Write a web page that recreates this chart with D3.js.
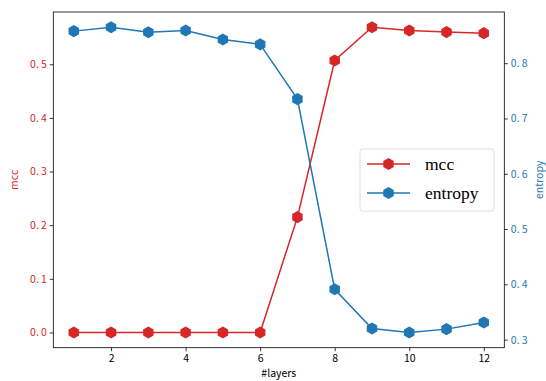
<!DOCTYPE html>
<html>
<head>
<meta charset="utf-8">
<script src="https://cdn.jsdelivr.net/npm/d3@7"></script>
<style>
  body { margin: 0; background: #fff; }
  svg text { font-family: "Noto Sans CJK SC", "DejaVu Sans", sans-serif; }
  svg text.serif { font-family: "Liberation Serif", "Times New Roman", serif; }
</style>
</head>
<body>
<div id="chart"></div>
<script>
const layers = [1, 2, 3, 4, 5, 6, 7, 8, 9, 10, 11, 12];
const mcc = [0, 0, 0, 0, 0, 0, 0.215, 0.507, 0.569, 0.563, 0.560, 0.558];
const entropy = [0.858, 0.865, 0.856, 0.859, 0.843, 0.834, 0.735, 0.391, 0.320, 0.313, 0.319, 0.331];
const xTicks = [2, 4, 6, 8, 10, 12];
const mccTicks = [0.0, 0.1, 0.2, 0.3, 0.4, 0.5];
const entropyTicks = [0.3, 0.4, 0.5, 0.6, 0.7, 0.8];

const width = 546;
const height = 381;
const red = '#d62728';
const blue = '#1f77b4';
const plot = { left: 53.3, right: 504.3, top: 12, bottom: 347.7 };

const svg = d3.select('#chart').append('svg')
  .attr('width', width)
  .attr('height', height);

// matplotlib-like 5% margins
function padded(vals) {
  const [lo, hi] = d3.extent(vals);
  const m = (hi - lo) * 0.05;
  return [lo - m, hi + m];
}

const x = d3.scaleLinear().domain(padded(layers)).range([plot.left, plot.right]);
const yL = d3.scaleLinear().domain(padded(mcc)).range([plot.bottom, plot.top]);
const yR = d3.scaleLinear().domain(padded(entropy)).range([plot.bottom, plot.top]);

const fmt = d => d3.format('.1f')(d).replace('.', '.\u2009');

function styleAxis(g, color) {
  g.select('.domain').remove();
  g.selectAll('.tick line').attr('stroke', '#000').attr('stroke-width', 0.8);
  g.selectAll('.tick text').attr('fill', color).attr('font-size', 10.5);
}

svg.append('g')
  .attr('transform', `translate(0,${plot.bottom})`)
  .call(d3.axisBottom(x).tickValues(xTicks).tickSize(3.5).tickPadding(3))
  .call(g => styleAxis(g, '#000'));

svg.append('g')
  .attr('transform', `translate(${plot.left},0)`)
  .call(d3.axisLeft(yL).tickValues(mccTicks).tickSize(3.5).tickPadding(3).tickFormat(fmt))
  .call(g => styleAxis(g, red));

svg.append('g')
  .attr('transform', `translate(${plot.right},0)`)
  .call(d3.axisRight(yR).tickValues(entropyTicks).tickSize(3.5).tickPadding(3).tickFormat(fmt))
  .call(g => styleAxis(g, blue));

const hex = d3.symbol().type({
  draw(ctx, size) {
    const r = Math.sqrt(size / 2.598);
    for (let i = 0; i < 6; i++) {
      const a = Math.PI / 2 + i * Math.PI / 3;
      const px = r * Math.cos(a);
      const py = r * Math.sin(a);
      if (i === 0) ctx.moveTo(px, py); else ctx.lineTo(px, py);
    }
    ctx.closePath();
  }
}).size(95);

function series(vals, yScale, color) {
  const pts = layers.map((l, i) => [x(l), yScale(vals[i])]);
  svg.append('path')
    .attr('d', d3.line()(pts))
    .attr('fill', 'none')
    .attr('stroke', color)
    .attr('stroke-width', 1.5);
  svg.append('g').selectAll('path')
    .data(pts)
    .join('path')
    .attr('transform', d => `translate(${d[0]},${d[1]})`)
    .attr('d', hex)
    .attr('fill', color);
}

series(mcc, yL, red);
series(entropy, yR, blue);

// frame
svg.append('rect')
  .attr('x', plot.left).attr('y', plot.top)
  .attr('width', plot.right - plot.left).attr('height', plot.bottom - plot.top)
  .attr('fill', 'none').attr('stroke', '#000').attr('stroke-width', 0.8);

// axis titles
svg.append('text')
  .attr('x', (plot.left + plot.right) / 2).attr('y', 377)
  .attr('text-anchor', 'middle').attr('font-size', 10.5)
  .text('#layers');

svg.append('text')
  .attr('transform', `translate(18,${(plot.top + plot.bottom) / 2}) rotate(-90)`)
  .attr('text-anchor', 'middle').attr('font-size', 10.5).attr('fill', red)
  .text('mcc');

svg.append('text')
  .attr('transform', `translate(543,${(plot.top + plot.bottom) / 2}) rotate(-90)`)
  .attr('text-anchor', 'middle').attr('font-size', 10.5).attr('fill', blue)
  .text('entropy');

// legend
const legend = svg.append('g').attr('transform', 'translate(360,149)');
legend.append('rect')
  .attr('width', 134).attr('height', 62).attr('rx', 2.5)
  .attr('fill', '#fff').attr('fill-opacity', 0.8)
  .attr('stroke', '#d6d6d6').attr('stroke-width', 0.8);

const entries = [['mcc', red], ['entropy', blue]];
entries.forEach(([name, color], i) => {
  const cy = 15 + i * 29;
  legend.append('line')
    .attr('x1', 7).attr('x2', 50).attr('y1', cy).attr('y2', cy)
    .attr('stroke', color).attr('stroke-width', 1.5);
  legend.append('path')
    .attr('transform', `translate(28.5,${cy})`)
    .attr('d', hex).attr('fill', color);
  legend.append('text')
    .attr('class', 'serif')
    .attr('x', 65).attr('y', cy + 5.5)
    .attr('font-size', 17.5)
    .text(name);
});
</script>
</body>
</html>
